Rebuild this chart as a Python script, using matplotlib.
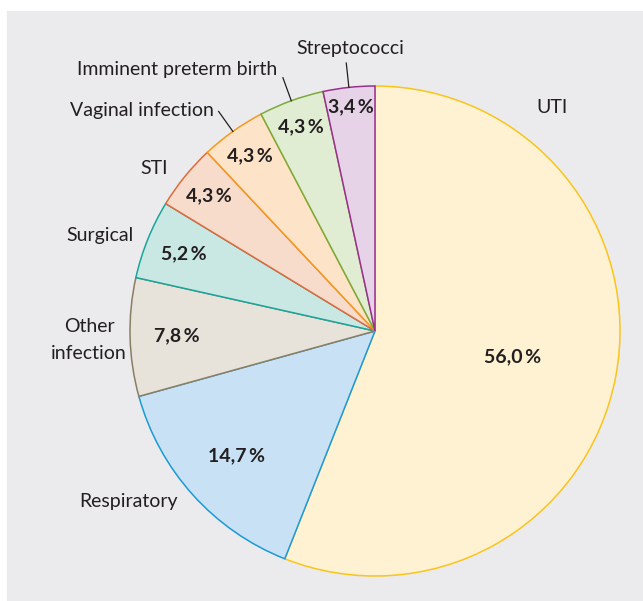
import matplotlib.pyplot as plt
import numpy as np
from matplotlib.patches import Rectangle

plt.rcParams['font.family'] = ['Lato', 'DejaVu Sans']

labels = ['UTI', 'Respiratory', 'Other\ninfection', 'Surgical', 'STI',
          'Vaginal infection', 'Imminent preterm birth', 'Streptococci']
values = [56.0, 14.7, 7.8, 5.2, 4.3, 4.3, 4.3, 3.4]
fills = ['#fef2d2', '#c8e1f4', '#e7e3da', '#c9e8e4', '#f7dbcb', '#fde3c8', '#e1edd3', '#e6d3e8']
edges = ['#f9c51a', '#1a9ad6', '#8a7e63', '#1aa59a', '#e06a3b', '#f39a1f', '#7aab3a', '#9b2f8e']

# layout: radius of percent labels, name label positions, which slices get leader lines
pct_r = [0.57, 0.76, 0.81, 0.84, 0.875, 0.88, 0.885, 0.92]
name_xy = [(0.722, 0.914), (-1.008, -0.694), (-1.167, -0.037), (-1.122, 0.388),
           (-0.902, 0.665), (-0.951, 0.898), (-0.808, 1.069), (-0.102, 1.155)]
leaders = [False, False, False, False, False, True, True, True]

W, H = 643, 601
fig = plt.figure(figsize=(W / 100, H / 100), dpi=100)
bg = Rectangle((7 / W, 0), 1, (H - 11) / H, transform=fig.transFigure,
               color='#ebebed', zorder=-10)
fig.add_artist(bg)

cx, cy, R = 375, 331, 245
ax = fig.add_axes([(cx - R) / W, (H - cy - R) / H, 2 * R / W, 2 * R / H])

wedges, _ = ax.pie(values, colors=fills, startangle=90, counterclock=False, radius=1)
for w, ec in zip(wedges, edges):
    w.set_edgecolor(ec)
    w.set_linewidth(1.1)
ax.set_xlim(-1, 1)
ax.set_ylim(-1, 1)
ax.axis('off')

total = sum(values)
ang = 90.0
for i, v in enumerate(values):
    span = v / total * 360
    mid = np.deg2rad(ang - span / 2)
    ang -= span
    txt = f'{v:.1f}'.replace('.', ',') + '\u2009%'
    ax.text(pct_r[i] * np.cos(mid), pct_r[i] * np.sin(mid), txt, ha='center', va='center',
            fontsize=14, fontweight='bold', color='#231f20')
    ax.text(name_xy[i][0], name_xy[i][1], labels[i], ha='center', va='center',
            fontsize=14, color='#231f20', linespacing=1.75)
    if leaders[i]:
        ax.plot([np.cos(mid), 1.1 * np.cos(mid)], [np.sin(mid), 1.1 * np.sin(mid)],
                color='#231f20', lw=0.9, clip_on=False)

fig.savefig('out.png', dpi=100)
